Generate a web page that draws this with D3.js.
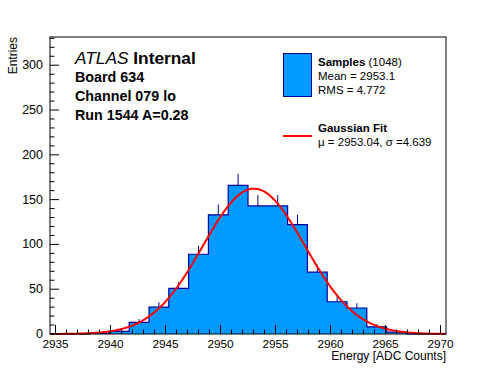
<!DOCTYPE html>
<html>
<head>
<meta charset="utf-8">
<script src="https://cdn.jsdelivr.net/npm/d3@7"></script>
<style>
  body { margin: 0; background: #fff; }
  svg text { font-family: "Liberation Sans", Arial, Helvetica, sans-serif; fill: #000; }
</style>
</head>
<body>
<svg id="chart" width="496" height="372"></svg>
<script>
// histogram binning (20 bins of 1.8 ADC counts)
const binLow = 2934.5
const binWidth = 1.8
const binCounts = [0, 0, 1, 3, 13, 30, 51, 89, 133, 166, 143, 143, 122, 69, 36, 29, 8, 2, 0, 0]

const xTicks = [2935, 2940, 2945, 2950, 2955, 2960, 2965, 2970]
const yTicks = [0, 50, 100, 150, 200, 250, 300]

// fit result (from legend)
const nEntries = 1048
const fitMean = 2953.04
const fitSigma = 4.639

const labelLines = ["Board 634", "Channel 079 lo", "Run 1544 A=0.28"]

const fillColor = "#0099ff"
const lineColor = "#000099"

const frame = {left: 50, right: 446, top: 37, bottom: 334}

const svg = d3.select("#chart")

const x = d3.scaleLinear().domain([2934.5, 2970.5]).range([frame.left, frame.right])
const y = d3.scaleLinear().domain([0, 331.5]).range([frame.bottom, frame.top])

const bins = binCounts.map((c, i) => ({
    x0: binLow + i * binWidth,
    x1: binLow + (i + 1) * binWidth,
    count: c
}))

// error bars (only the upper half shows above the fill)
svg.append("g").selectAll("line")
    .data(bins.filter(d => d.count > 0))
    .join("line")
    .attr("x1", d => x((d.x0 + d.x1) / 2))
    .attr("x2", d => x((d.x0 + d.x1) / 2))
    .attr("y1", d => y(d.count))
    .attr("y2", d => y(d.count + Math.sqrt(d.count)))
    .attr("stroke", lineColor)
    .attr("stroke-width", 1)

// step path of histogram
const stepPts = [[bins[0].x0, 0]]
bins.forEach(d => {
    stepPts.push([d.x0, d.count])
    stepPts.push([d.x1, d.count])
})
stepPts.push([bins[bins.length - 1].x1, 0])

const stepLine = d3.line().x(d => x(d[0])).y(d => y(d[1]))

svg.append("path")
    .attr("d", stepLine(stepPts))
    .attr("fill", fillColor)
    .attr("stroke", lineColor)
    .attr("stroke-width", 1.2)

// gaussian fit curve
const gauss = v => nEntries * binWidth / (fitSigma * Math.sqrt(2 * Math.PI)) *
    Math.exp(-0.5 * Math.pow((v - fitMean) / fitSigma, 2))
const fitX = d3.range(2934.5, 2970.5001, 0.1)

svg.append("path")
    .attr("d", d3.line().x(d => x(d)).y(d => y(gauss(d)))(fitX))
    .attr("fill", "none")
    .attr("stroke", "#ff0000")
    .attr("stroke-width", 2)

// frame
svg.append("rect")
    .attr("x", frame.left).attr("y", frame.top)
    .attr("width", frame.right - frame.left).attr("height", frame.bottom - frame.top)
    .attr("fill", "none").attr("stroke", "#000").attr("stroke-width", 1)

// x axis, ticks inside
const xAxis = svg.append("g")
d3.range(2935, 2971, 1).forEach(v => {
    const major = v % 5 === 0
    xAxis.append("line")
        .attr("x1", x(v)).attr("x2", x(v))
        .attr("y1", frame.bottom).attr("y2", frame.bottom - (major ? 9 : 4.5))
        .attr("stroke", "#000")
})
xAxis.selectAll("text").data(xTicks).join("text")
    .attr("x", d => x(d))
    .attr("y", frame.bottom + 13.5)
    .attr("text-anchor", "middle")
    .attr("font-size", 11.8)
    .text(d => d)

svg.append("text")
    .attr("x", frame.right)
    .attr("y", 360)
    .attr("text-anchor", "end")
    .attr("font-size", 12)
    .text("Energy [ADC Counts]")

// y axis
const yAxis = svg.append("g")
d3.range(0, 331, 10).forEach(v => {
    const major = v % 50 === 0
    yAxis.append("line")
        .attr("x1", frame.left).attr("x2", frame.left + (major ? 9 : 4.5))
        .attr("y1", y(v)).attr("y2", y(v))
        .attr("stroke", "#000")
})
yAxis.selectAll("text").data(yTicks).join("text")
    .attr("x", frame.left - 7)
    .attr("y", d => y(d) + 4)
    .attr("text-anchor", "end")
    .attr("font-size", 12.5)
    .text(d => d)

svg.append("text")
    .attr("transform", `translate(17,${frame.top}) rotate(-90)`)
    .attr("text-anchor", "end")
    .attr("font-size", 12)
    .text("Entries")

// ATLAS label
const atlas = svg.append("text").attr("x", 75).attr("y", 64).attr("font-size", 17.3)
atlas.append("tspan").attr("font-style", "italic").text("ATLAS")
atlas.append("tspan").attr("font-weight", "bold").text(" Internal")

svg.selectAll("text.info").data(labelLines).join("text")
    .attr("class", "info")
    .attr("x", 75)
    .attr("y", (d, i) => 82 + i * 19)
    .attr("font-size", 14.3)
    .attr("font-weight", "bold")
    .text(d => d)

// legend
const leg = svg.append("g")
leg.append("rect")
    .attr("x", 283.5).attr("y", 53.5).attr("width", 28).attr("height", 43)
    .attr("fill", fillColor).attr("stroke", lineColor).attr("stroke-width", 1)
const t1 = leg.append("text").attr("x", 318).attr("y", 66).attr("font-size", 11.5)
t1.append("tspan").attr("font-weight", "bold").text("Samples")
t1.append("tspan").text(" (1048)")
leg.append("text").attr("x", 318).attr("y", 80).attr("font-size", 11.5).text("Mean = 2953.1")
leg.append("text").attr("x", 318).attr("y", 94).attr("font-size", 11.5).text("RMS = 4.772")

leg.append("line")
    .attr("x1", 283).attr("x2", 312).attr("y1", 136).attr("y2", 136)
    .attr("stroke", "#ff0000").attr("stroke-width", 2)
leg.append("text").attr("x", 318).attr("y", 132).attr("font-size", 11.5)
    .attr("font-weight", "bold").text("Gaussian Fit")
leg.append("text").attr("x", 318).attr("y", 146).attr("font-size", 11.5)
    .text("\u03bc = 2953.04, \u03c3 =4.639")
</script>
</body>
</html>
